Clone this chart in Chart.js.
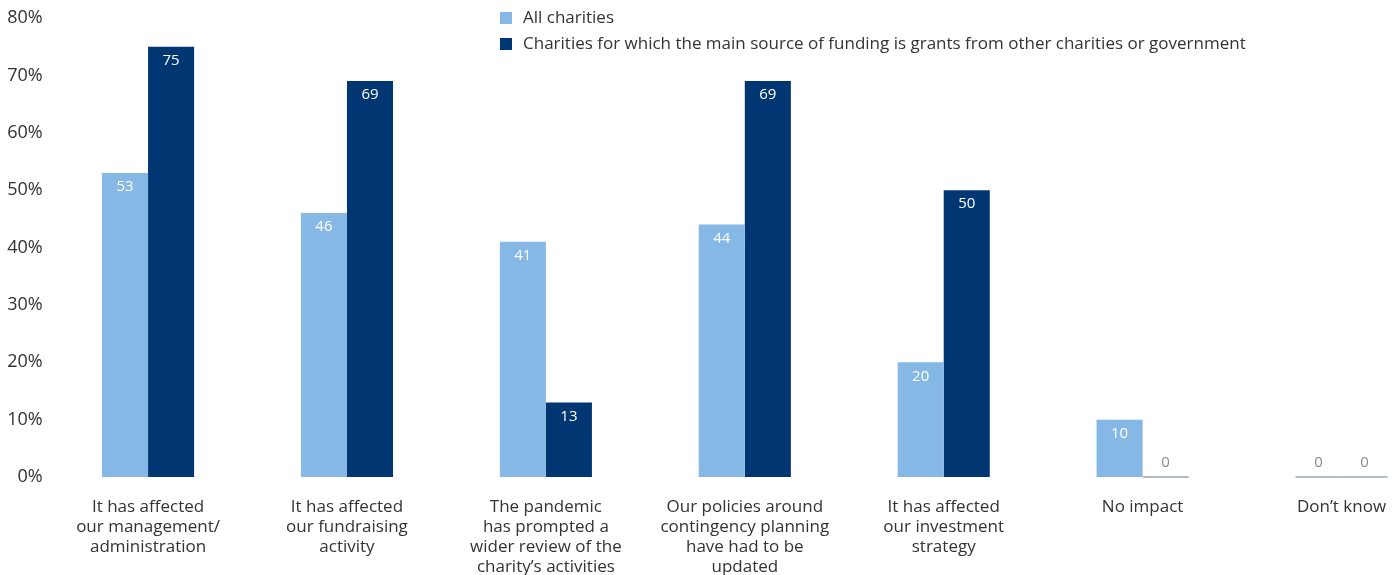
<!DOCTYPE html>
<html>
<head>
<meta charset="utf-8">
<script src="https://cdn.jsdelivr.net/npm/chart.js@4"></script>
<style>
  html, body { margin: 0; padding: 0; background: #fff; overflow: hidden; }
  #wrap { position: relative; width: 1441px; height: 575px; }
</style>
</head>
<body>
<div id="wrap"><canvas id="chart"></canvas></div>
<script>
const categories = [
  ["It has affected", "our management/", "administration"],
  ["It has affected", "our fundraising", "activity"],
  ["The pandemic", "has prompted a", "wider review of the", "charity’s activities"],
  ["Our policies around", "contingency planning", "have had to be", "updated"],
  ["It has affected", "our investment", "strategy"],
  ["No impact"],
  ["Don’t know"]
];
const allCharities = [53, 46, 41, 44, 20, 10, 0];
const grantFunded = [75, 69, 13, 69, 50, 0, 0];
const seriesNames = [
  "All charities",
  "Charities for which the main source of funding is grants from other charities or government"
];
const yTicks = [0, 10, 20, 30, 40, 50, 60, 70, 80];

const LIGHT = "#86b8e6";
const DARK = "#003672";
const FONT = "'Open Sans', 'DejaVu Sans', sans-serif";

// value labels inside the bars, plus a grey stub for zero values
const barLabels = {
  id: "barLabels",
  afterDatasetsDraw(chart) {
    const ctx = chart.ctx;
    ctx.save();
    ctx.font = "15px " + FONT;
    ctx.textAlign = "center";
    ctx.textBaseline = "middle";
    chart.data.datasets.forEach((ds, i) => {
      chart.getDatasetMeta(i).data.forEach((bar, j) => {
        const v = ds.data[j];
        if (v === 0) {
          ctx.fillStyle = "#b3bbc3";
          ctx.fillRect(bar.x - bar.width / 2, bar.base - 1, bar.width, 2);
          ctx.fillStyle = "#8a8a8a";
          ctx.fillText(String(v), bar.x, bar.base - 14);
        } else {
          ctx.fillStyle = "#ffffff";
          ctx.fillText(String(v), bar.x, bar.y + 14);
        }
      });
    });
    ctx.restore();
  }
};

// stacked legend in the top middle
const stackedLegend = {
  id: "stackedLegend",
  afterDraw(chart) {
    const ctx = chart.ctx;
    ctx.save();
    ctx.font = "17px " + FONT;
    ctx.textBaseline = "middle";
    chart.data.datasets.forEach((ds, i) => {
      const y = 18 + i * 26;
      ctx.fillStyle = ds.backgroundColor;
      ctx.fillRect(500, y - 6, 12, 12);
      ctx.fillStyle = "#333333";
      ctx.fillText(ds.label, 523, y);
    });
    ctx.restore();
  }
};

new Chart(document.getElementById("chart"), {
  type: "bar",
  data: {
    labels: categories,
    datasets: [
      { label: seriesNames[0], data: allCharities, backgroundColor: LIGHT },
      { label: seriesNames[1], data: grantFunded, backgroundColor: DARK }
    ]
  },
  options: {
    responsive: true,
    maintainAspectRatio: false,
    animation: false,
    layout: { padding: { top: 18, right: 0, bottom: 0, left: 0 } },
    datasets: {
      bar: { categoryPercentage: 0.463, barPercentage: 1.0, borderWidth: 0 }
    },
    plugins: {
      legend: { display: false },
      tooltip: { enabled: false }
    },
    scales: {
      x: {
        grid: { display: false, drawTicks: false },
        border: { display: false },
        afterFit(scale) { scale.height = 98; },
        ticks: {
          maxRotation: 0,
          autoSkip: false,
          padding: 20,
          color: "#333333",
          font: { family: FONT, size: 17, lineHeight: 1.18 }
        }
      },
      y: {
        min: 0,
        max: 80,
        grid: { display: false, drawTicks: false },
        border: { display: false },
        afterFit(scale) { scale.width = 48.6; },
        afterBuildTicks(scale) { scale.ticks = yTicks.map(v => ({ value: v })); },
        ticks: {
          padding: 6,
          color: "#333333",
          font: { family: FONT, size: 18 },
          callback: v => v + "%"
        }
      }
    }
  },
  plugins: [barLabels, stackedLegend]
});
</script>
</body>
</html>
